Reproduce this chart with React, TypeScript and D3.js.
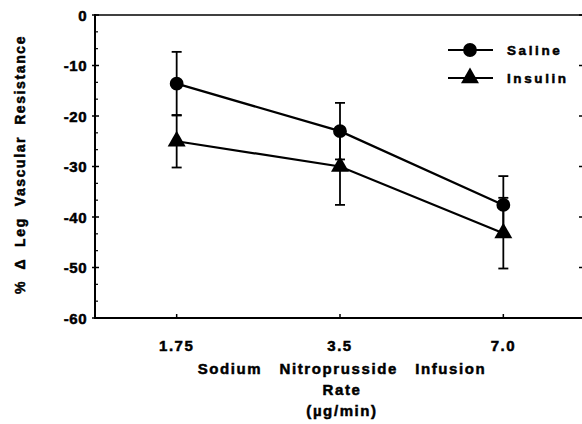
import React, { useEffect, useRef } from "react";
import * as d3 from "d3";

const categories = ["1.75", "3.5", "7.0"];
const salineMean = [-13.6, -23.0, -37.6];
const salineErr = [6.3, 5.6, 5.7];
const insulinMean = [-25.0, -30.0, -43.2];
const insulinErr = [5.2, 7.6, 7.0];
const yTicks = [0, -10, -20, -30, -40, -50, -60];
const legendLabels = ["Saline", "Insulin"];

const App: React.FC = () => {
  const ref = useRef<SVGSVGElement>(null);

  useEffect(() => {
    if (!ref.current) return;
    const svg = d3.select(ref.current);
    svg.selectAll("*").remove();

    const font = "'Liberation Sans', Arial, sans-serif";
    const left = 95;
    const right = 585;
    const top = 15;
    const bottom = 318;

    const x = d3.scalePoint<string>().domain(categories).range([left, right]).padding(0.5);
    const y = d3.scaleLinear().domain([-60, 0]).range([bottom, top]);

    const g = svg.append("g");

    // bold-ish text helper
    const heavy = (sel: d3.Selection<SVGTextElement, any, any, any>, size: number, spacing: number) =>
      sel.attr("font-family", font).attr("font-weight", "bold").attr("font-size", size)
        .attr("letter-spacing", spacing).attr("stroke", "#000").attr("stroke-width", 0.5)
        .attr("fill", "#000");

    // frame
    g.append("line").attr("x1", left).attr("x2", left).attr("y1", top - 1).attr("y2", bottom + 1)
      .attr("stroke", "#000").attr("stroke-width", 2);
    g.append("line").attr("x1", left - 1).attr("x2", right).attr("y1", bottom).attr("y2", bottom)
      .attr("stroke", "#000").attr("stroke-width", 2.2);
    g.append("line").attr("x1", left - 1).attr("x2", right).attr("y1", top).attr("y2", top)
      .attr("stroke", "#000").attr("stroke-width", 1.6);
    g.append("line").attr("x1", right).attr("x2", right).attr("y1", top).attr("y2", bottom)
      .attr("stroke", "#000").attr("stroke-width", 2);

    // y ticks (major + minor thirds)
    const minor = d3.range(0, 18).map((i) => -i * (10 / 3)).filter((v) => Math.abs(v % 10) > 0.01);
    g.selectAll(".minor").data(minor).enter().append("line")
      .attr("x1", left).attr("x2", left + 3)
      .attr("y1", (d) => y(d)).attr("y2", (d) => y(d))
      .attr("stroke", "#000").attr("stroke-width", 1.2);
    g.selectAll(".major").data(yTicks).enter().append("line")
      .attr("x1", left - 3).attr("x2", left + 4)
      .attr("y1", (d) => y(d)).attr("y2", (d) => y(d))
      .attr("stroke", "#000").attr("stroke-width", 1.5);
    g.selectAll(".rmajor").data(yTicks).enter().append("line")
      .attr("x1", right - 6).attr("x2", right)
      .attr("y1", (d) => y(d)).attr("y2", (d) => y(d))
      .attr("stroke", "#000").attr("stroke-width", 1.5);
    heavy(
      g.selectAll(".ylab").data(yTicks).enter().append("text")
        .attr("x", left - 8).attr("y", (d) => y(d) + 5.5)
        .attr("text-anchor", "end").text((d) => (d === 0 ? "0" : `-${Math.abs(d)}`)),
      15, 0.5
    );

    // x ticks
    g.selectAll(".xt").data(categories).enter().append("line")
      .attr("x1", (d) => x(d)!).attr("x2", (d) => x(d)!)
      .attr("y1", bottom - 4).attr("y2", bottom)
      .attr("stroke", "#000").attr("stroke-width", 1.5);
    heavy(
      g.selectAll(".xlab").data(categories).enter().append("text")
        .attr("x", (d) => x(d)!).attr("y", bottom + 33)
        .attr("text-anchor", "middle").text((d) => d),
      15, 1.5
    );

    // axis titles
    const xTitle = ["Sodium   Nitroprusside   Infusion", "Rate", "(\u00b5g/min)"];
    heavy(
      g.selectAll(".xtitle").data(xTitle).enter().append("text")
        .attr("x", 342).attr("y", (_, i) => 374 + i * 21)
        .attr("text-anchor", "middle").style("white-space", "pre").text((d) => d),
      15, 1.6
    );

    heavy(
      g.append("text")
        .attr("transform", `translate(25,${(top + bottom) / 2 - 2}) rotate(-90)`)
        .attr("text-anchor", "middle").style("white-space", "pre")
        .text("%  \u0394  Leg  Vascular  Resistance"),
      14, 1.6
    );

    const series = [
      { mean: salineMean, err: salineErr, shape: d3.symbolCircle, size: 150 },
      { mean: insulinMean, err: insulinErr, shape: d3.symbolTriangle, size: 140 },
    ];

    const line = d3.line<number>().x((_, i) => x(categories[i])!).y((d) => y(d));

    series.forEach((s) => {
      // error bars
      s.mean.forEach((m, i) => {
        const cx = x(categories[i])!;
        const lo = y(m - s.err[i]);
        const hi = y(m + s.err[i]);
        g.append("line").attr("x1", cx).attr("x2", cx).attr("y1", hi).attr("y2", lo)
          .attr("stroke", "#000").attr("stroke-width", 1.8);
        [hi, lo].forEach((yy) =>
          g.append("line").attr("x1", cx - 5).attr("x2", cx + 5).attr("y1", yy).attr("y2", yy)
            .attr("stroke", "#000").attr("stroke-width", 1.8));
      });
      g.append("path").datum(s.mean).attr("d", line)
        .attr("fill", "none").attr("stroke", "#000").attr("stroke-width", 2.2);
      g.selectAll(null).data(s.mean).enter().append("path")
        .attr("d", d3.symbol().type(s.shape).size(s.size)!)
        .attr("transform", (d, i) => `translate(${x(categories[i])},${y(d)})`)
        .attr("fill", "#000");
    });

    // legend
    const legY = [50, 78];
    legendLabels.forEach((lab, i) => {
      const s = series[i];
      g.append("line").attr("x1", 448).attr("x2", 493).attr("y1", legY[i]).attr("y2", legY[i])
        .attr("stroke", "#000").attr("stroke-width", 2.2);
      g.append("path").attr("d", d3.symbol().type(s.shape).size(s.size)!)
        .attr("transform", `translate(470,${legY[i]})`).attr("fill", "#000");
      heavy(
        g.append("text").attr("x", 507).attr("y", legY[i] + 5).text(lab),
        13.5, 2.6
      );
    });
  }, []);

  return (
    <svg
      ref={ref}
      width={582}
      height={424}
      style={{ position: "absolute", left: 0, top: 0, background: "#fff" }}
    />
  );
};

export default App;
